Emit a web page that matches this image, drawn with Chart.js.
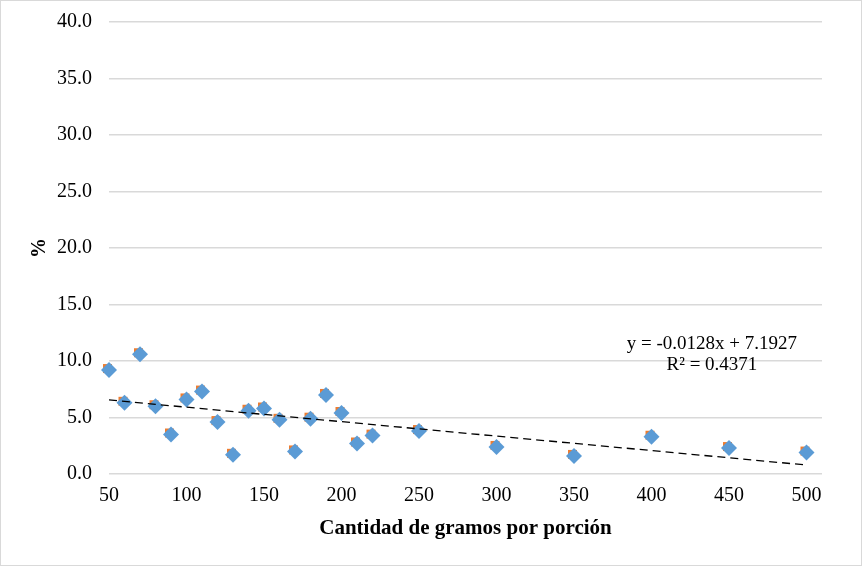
<!DOCTYPE html>
<html>
<head>
<meta charset="utf-8">
<script src="https://cdn.jsdelivr.net/npm/chart.js@4/dist/chart.umd.min.js"></script>
<style>
  html, body { margin: 0; padding: 0; background: #fff; }
  #wrap { width: 862px; height: 566px; position: relative; }
</style>
</head>
<body>
<div id="wrap"><canvas id="c" width="862" height="566"></canvas></div>
<script>
// ---- data ----
const gramos = [50, 60, 70, 80, 90, 100, 110, 120, 130, 140, 150, 160, 170, 180, 190, 200, 210, 220, 250, 300, 350, 400, 450, 500];
const porcentaje = [9.2, 6.3, 10.6, 6.0, 3.5, 6.6, 7.3, 4.6, 1.7, 5.6, 5.8, 4.8, 2.0, 4.9, 7.0, 5.4, 2.7, 3.4, 3.8, 2.4, 1.6, 3.3, 2.3, 1.9];
const xTicks = [50, 100, 150, 200, 250, 300, 350, 400, 450, 500];
const yTicks = [0, 5, 10, 15, 20, 25, 30, 35, 40];
const trendSlope = -0.0128;
const trendIntercept = 7.1927;
const trendRange = [50, 500];
const trendLabel = ["y = -0.0128x + 7.1927", "R² = 0.4371"];
const trendLabelAnchor = { x: 439, y: 11.05 };
const xTitle = "Cantidad de gramos por porción";
const yTitle = "%";

const pts = gramos.map((g, i) => ({ x: g, y: porcentaje[i] }));
const trendPts = trendRange.map(x => ({ x: x, y: trendSlope * x + trendIntercept }));

// orange marker peeking behind the blue diamond
const orangeImg = document.createElement('canvas');
orangeImg.width = 18; orangeImg.height = 18;
(function () {
  const g = orangeImg.getContext('2d');
  g.fillStyle = '#ED7D31';
  g.fillRect(3, 3, 9, 9);
})();

const serif = "'Liberation Serif', 'Times New Roman', serif";

const borderPlugin = {
  id: 'outerBorder',
  beforeDraw(chart) {
    const ctx = chart.ctx;
    ctx.save();
    ctx.fillStyle = '#fff';
    ctx.fillRect(0, 0, chart.width, chart.height);
    ctx.strokeStyle = '#d9d9d9';
    ctx.lineWidth = 1;
    ctx.strokeRect(0.5, 0.5, chart.width - 1, chart.height - 1);
    ctx.restore();
  }
};

const labelPlugin = {
  id: 'trendLabel',
  afterDatasetsDraw(chart) {
    const ctx = chart.ctx;
    const xs = chart.scales.x, ys = chart.scales.y;
    const px = xs.getPixelForValue(trendLabelAnchor.x);
    const py = ys.getPixelForValue(trendLabelAnchor.y);
    ctx.save();
    ctx.font = "19px " + serif;
    ctx.fillStyle = '#000';
    ctx.textAlign = 'center';
    ctx.textBaseline = 'alphabetic';
    trendLabel.forEach((t, i) => ctx.fillText(t, px, py + i * 21));
    ctx.restore();
  }
};

new Chart(document.getElementById('c'), {
  type: 'scatter',
  data: {
    datasets: [
      {
        type: 'line',
        data: trendPts,
        borderColor: '#000',
        borderWidth: 1.3,
        borderDash: [8, 5],
        pointRadius: 0,
        fill: false,
        clip: false,
        order: 0
      },
      {
        data: pts,
        pointStyle: 'rectRot',
        pointRadius: 8,
        pointHoverRadius: 8,
        backgroundColor: '#5B9BD5',
        borderColor: '#5B9BD5',
        borderWidth: 0,
        clip: false,
        order: 1
      },
      {
        data: pts,
        pointStyle: orangeImg,
        pointRadius: 9,
        backgroundColor: '#ED7D31',
        borderColor: '#ED7D31',
        clip: false,
        order: 2
      }
    ]
  },
  options: {
    responsive: false,
    devicePixelRatio: 1,
    animation: false,
    layout: { padding: { top: 22, right: 40, bottom: 0, left: 0 } },
    plugins: { legend: { display: false }, tooltip: { enabled: false } },
    scales: {
      x: {
        type: 'linear',
        min: 50,
        max: 510,
        afterBuildTicks(scale) { scale.ticks = xTicks.map(v => ({ value: v })); },
        afterFit(scale) { scale.height = 92; scale.paddingLeft = 0; scale.paddingRight = 0; },
        grid: { display: false, drawTicks: false },
        border: { display: false },
        ticks: {
          font: { family: serif, size: 20 },
          color: '#000',
          padding: 10,
          maxRotation: 0,
          autoSkip: false
        },
        title: {
          display: true,
          text: xTitle,
          font: { family: serif, size: 21, weight: 'bold' },
          color: '#000',
          padding: { top: 0, bottom: 25 }
        }
      },
      y: {
        min: 0,
        max: 40,
        afterBuildTicks(scale) { scale.ticks = yTicks.map(v => ({ value: v })); },
        afterFit(scale) { scale.width = 109; scale.paddingTop = 0; scale.paddingBottom = 0; },
        grid: { color: '#d9d9d9', lineWidth: 1.5, drawTicks: false },
        border: { display: false },
        ticks: {
          font: { family: serif, size: 20 },
          color: '#000',
          padding: 17,
          callback: v => v.toFixed(1)
        },
        title: {
          display: true,
          text: yTitle,
          font: { family: serif, size: 20, weight: 'bold' },
          color: '#000',
          padding: { top: 28, bottom: 0 }
        }
      }
    }
  },
  plugins: [borderPlugin, labelPlugin]
});
</script>
</body>
</html>
